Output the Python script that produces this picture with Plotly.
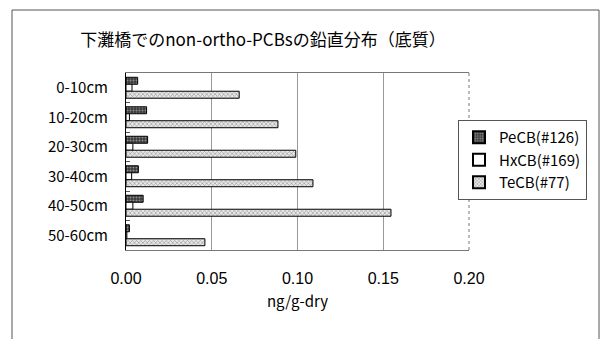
import plotly.graph_objects as go

depths = ["0-10cm", "10-20cm", "20-30cm", "30-40cm", "40-50cm", "50-60cm"]
pecb = [0.0068, 0.012, 0.0126, 0.0072, 0.010, 0.002]
hxcb = [0.0035, 0.002, 0.004, 0.0033, 0.004, 0.0005]
tecb = [0.066, 0.0886, 0.099, 0.109, 0.1545, 0.046]
x_ticks = [0.0, 0.05, 0.10, 0.15, 0.20]
x_ticklabels = ["0.00", "0.05", "0.10", "0.15", "0.20"]

FONT = "Noto Sans CJK JP, Liberation Sans, sans-serif"

fig = go.Figure()
fig.add_trace(go.Bar(
    y=depths, x=pecb, orientation="h", name="PeCB(#126)",
    marker=dict(color="#3a3a3a", line=dict(color="black", width=1),
                pattern=dict(shape=".", fgcolor="#e0e0e0", size=3, solidity=0.35)),
))
fig.add_trace(go.Bar(
    y=depths, x=hxcb, orientation="h", name="HxCB(#169)",
    marker=dict(color="white", line=dict(color="black", width=1)),
))
fig.add_trace(go.Bar(
    y=depths, x=tecb, orientation="h", name="TeCB(#77)",
    marker=dict(color="#e8e8e8", line=dict(color="black", width=1),
                pattern=dict(shape="x", fgcolor="#555555", size=3, solidity=0.4)),
))

fig.update_layout(
    width=602, height=339,
    margin=dict(l=126, r=133, t=73, b=89),
    paper_bgcolor="white", plot_bgcolor="white",
    barmode="group", bargap=0.29, bargroupgap=0,
    font=dict(family=FONT, size=15, color="black"),
    title=dict(text="下灘橋でのnon-ortho-PCBsの鉛直分布（底質）",
               x=263 / 602, xanchor="center", y=1 - 40 / 339, yanchor="middle",
               font=dict(family=FONT, size=17, color="black")),
    showlegend=True,
    legend=dict(x=(458 - 126) / 343, y=(250 - 120) / 177, xanchor="left", yanchor="top",
                bordercolor="#555555", borderwidth=1, bgcolor="white",
                font=dict(family=FONT, size=15), traceorder="normal",
                itemsizing="constant"),
    xaxis=dict(range=[0, 0.2], tickvals=x_ticks, ticktext=x_ticklabels,
               showgrid=True, gridcolor="#999999", gridwidth=1,
               showline=True, linecolor="#777777", linewidth=1, mirror=True,
               ticks="", zeroline=False, ticklabelstandoff=14,
               title=dict(text="ng/g-dry", font=dict(family=FONT, size=15), standoff=10),
               tickfont=dict(family="Liberation Sans, sans-serif", size=16)),
    yaxis=dict(autorange="reversed", showgrid=False,
               showline=True, linecolor="black", linewidth=1, mirror=False,
               ticks="inside", ticklen=4, tickcolor="#555555", tickson="boundaries",
               ticklabelstandoff=14,
               tickfont=dict(family=FONT, size=15)),
    shapes=[
        dict(type="rect", xref="paper", yref="paper",
             x0=(12 - 126) / 343, x1=(599 - 126) / 343,
             y0=(250 - 345) / 177, y1=(250 - 10) / 177,
             line=dict(color="#555555", width=1), fillcolor="rgba(0,0,0,0)", layer="below"),
        dict(type="line", xref="paper", yref="paper",
             x0=1, x1=1, y0=0, y1=1, line=dict(color="#777777", width=1, dash="dot")),
    ],
)

fig.write_html("out.html")
